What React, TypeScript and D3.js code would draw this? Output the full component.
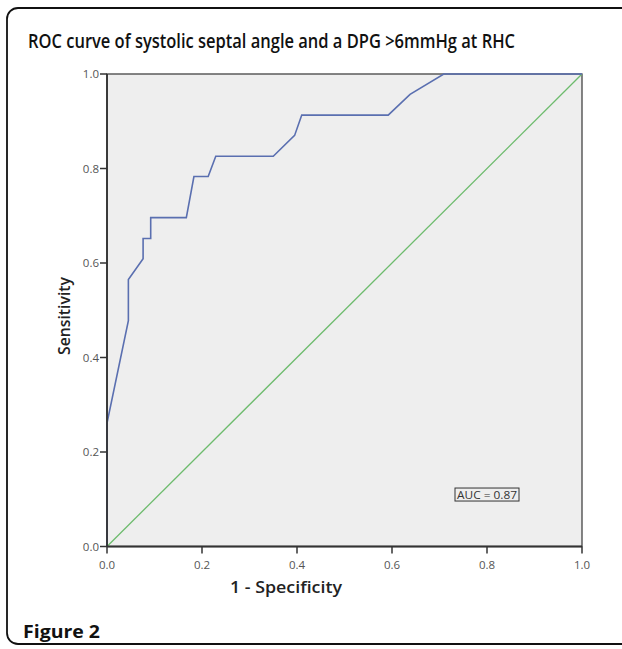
import React from 'react';
import * as d3 from 'd3';

// ROC curve points: 1 - specificity, sensitivity
const fpr = [0, 0, 0.045, 0.045, 0.076, 0.076, 0.092, 0.092, 0.167, 0.183, 0.213, 0.229, 0.350, 0.395, 0.410, 0.592, 0.638, 0.709, 1.0];
const tpr = [0, 0.261, 0.478, 0.565, 0.609, 0.652, 0.652, 0.696, 0.696, 0.783, 0.783, 0.826, 0.826, 0.870, 0.913, 0.913, 0.957, 1.0, 1.0];
const refLine = [0, 1];
const ticks = [0, 0.2, 0.4, 0.6, 0.8, 1.0];
const title = 'ROC curve of systolic septal angle and a DPG >6mmHg at RHC';
const aucLabel = 'AUC = 0.87';

export default function App() {
  const left = 107, right = 582, top = 74, bottom = 546.5;
  const x = d3.scaleLinear().domain([0, 1]).range([left, right]);
  const y = d3.scaleLinear().domain([0, 1]).range([bottom, top]);

  const pts = fpr.map((f, i) => [f, tpr[i]] as [number, number]);
  const roc = d3.line<[number, number]>().x(d => x(d[0])).y(d => y(d[1]));
  const diag = roc(refLine.map(v => [v, v] as [number, number]));

  const font = '"Open Sans", "DejaVu Sans", sans-serif';

  return (
    <svg width={622} height={649} style={{ position: 'absolute', left: 0, top: 0 }}>
      <rect x={0} y={0} width={622} height={649} fill="#fff" />
      {/* rounded figure frame */}
      <rect x={7} y={8} width={640} height={636} rx={11} fill="none" stroke="#111" strokeWidth={1.8} />

      <text x={28} y={48} fontFamily={font} fontWeight={600} fontSize={19.5} textLength={487}
        lengthAdjust="spacingAndGlyphs" fill="#111">{title}</text>

      {/* plot area */}
      <rect x={left} y={top} width={right - left} height={bottom - top} fill="#eeeeee" stroke="#444" strokeWidth={1.3} />

      <path d={diag || ''} fill="none" stroke="#6dbb6d" strokeWidth={1.3} />
      <path d={roc(pts) || ''} fill="none" stroke="#5a6fb0" strokeWidth={1.6} />

      {/* axes */}
      <line x1={left} x2={left} y1={top} y2={bottom} stroke="#333" strokeWidth={1.8} />
      <line x1={left} x2={right} y1={bottom} y2={bottom} stroke="#333" strokeWidth={1.8} />
      {ticks.map(t => (
        <g key={'x' + t}>
          <line x1={x(t)} x2={x(t)} y1={bottom} y2={bottom + 7} stroke="#333" strokeWidth={1.5} />
          <text x={x(t)} y={bottom + 22} textAnchor="middle" fontFamily={font} fontSize={11.5} fill="#555">{t.toFixed(1)}</text>
        </g>
      ))}
      {ticks.map(t => (
        <g key={'y' + t}>
          <line x1={left - 7} x2={left} y1={y(t)} y2={y(t)} stroke="#333" strokeWidth={1.5} />
          <text x={left - 8} y={y(t) + 4} textAnchor="end" fontFamily={font} fontSize={11.5} fill="#555">{t.toFixed(1)}</text>
        </g>
      ))}

      <text x={286} y={593} textAnchor="middle" fontFamily={font} fontWeight={600} fontSize={17}
        textLength={112} lengthAdjust="spacingAndGlyphs" fill="#222">1 - Specificity</text>
      <text transform="translate(70,316) rotate(-90)" textAnchor="middle" fontFamily={font} fontWeight={600}
        fontSize={17} textLength={78} lengthAdjust="spacingAndGlyphs" fill="#222">Sensitivity</text>

      {/* AUC box */}
      <g transform={`translate(${x(0.8)},${y(0.11)})`}>
        <rect x={-32} y={-6.5} width={64} height={13} fill="none" stroke="#333" strokeWidth={1} />
        <text x={0} y={4} textAnchor="middle" fontFamily={font} fontSize={11} textLength={60}
          lengthAdjust="spacingAndGlyphs" fill="#333">{aucLabel}</text>
      </g>

      <text x={23} y={638} fontFamily={font} fontWeight={700} fontSize={18} textLength={77}
        lengthAdjust="spacingAndGlyphs" fill="#111">Figure 2</text>
    </svg>
  );
}
